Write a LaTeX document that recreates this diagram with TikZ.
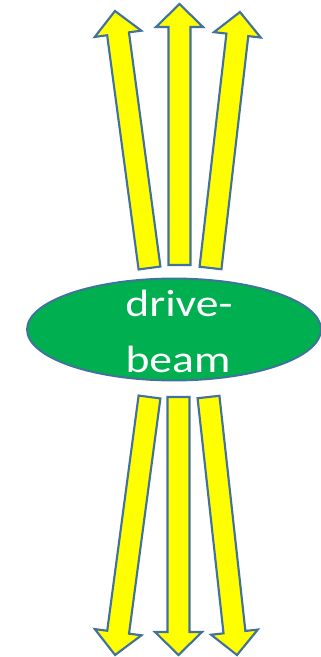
\documentclass[tikz,border=0pt]{standalone}
\usepackage{fontspec}
\setmainfont{Carlito}
\usetikzlibrary{shapes.geometric}
\definecolor{edgeblue}{HTML}{41719C}
\definecolor{beamgreen}{HTML}{00B050}
\definecolor{arrowyellow}{HTML}{FFFF00}
\tikzset{
  arrowbody/.style={draw=edgeblue, fill=arrowyellow, line width=1.6pt, line join=miter},
  beamshape/.style={ellipse, draw=edgeblue, fill=beamgreen, line width=1.4pt, inner sep=0pt,
    minimum width=294*0.75pt, minimum height=102*0.75pt},
  beamtext/.style={text=white, font=\fontsize{28.5}{28.5}\selectfont, anchor=base, inner sep=0pt}
}
% #1 base x, #2 base y, #3 angle, #4 length
\newcommand\yarrowshape[4]{%
  \begin{scope}[shift={(#1,#2)}, rotate=#3]
    \draw[arrowbody] (-11,0) -- (11,0) -- (11,#4-23) -- (23.5,#4-23) -- (0,#4)
      -- (-23.5,#4-23) -- (-11,#4-23) -- cycle;
  \end{scope}}
\begin{document}
\begin{tikzpicture}[x=0.75pt, y=0.75pt]
\useasboundingbox (0,0) rectangle (321,657);
% top arrows
\yarrowshape{149.5}{389}{7.65}{259.3}
\yarrowshape{179.5}{392}{0}{261}
\yarrowshape{210.5}{389}{-6.57}{257.7}
% bottom arrows
\yarrowshape{149.5}{260}{172.4}{260.3}
\yarrowshape{178.5}{260}{180}{258}
\yarrowshape{208.5}{260}{186.3}{259.6}
% ellipse
\node[beamshape] (beam) at (174, 327.5) {};
\node[beamtext] (t1) at (179, 340) {\scalebox{1.2}[1]{drive-}};
\node[beamtext] (t2) at (178, 284) {\scalebox{1.2}[1]{beam}};
\end{tikzpicture}
\end{document}
